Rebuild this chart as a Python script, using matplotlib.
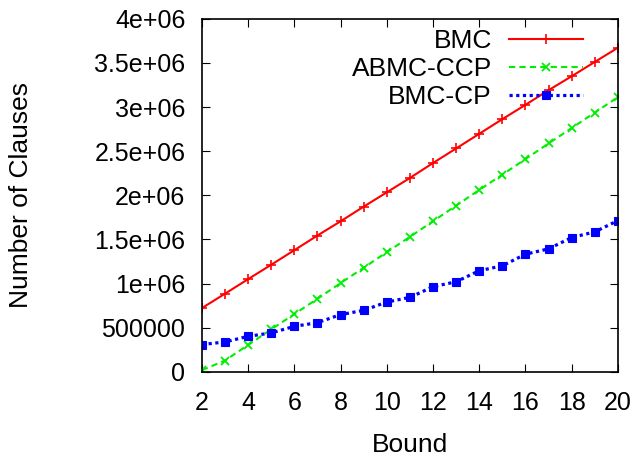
import matplotlib

matplotlib.use("Agg")

import matplotlib.pyplot as plt
from matplotlib.ticker import FuncFormatter, MultipleLocator

plt.rcParams.update({
    "font.family": ["Liberation Sans", "DejaVu Sans"],
    "font.size": 18,
    "xtick.direction": "in", "ytick.direction": "in",
    "xtick.top": True, "ytick.right": True,
    "xtick.major.size": 6, "ytick.major.size": 6,
    "axes.linewidth": 1.2,
})

# values
bounds = list(range(2, 21))
bmc = [723000, 886000, 1051000, 1214000, 1379000, 1545000, 1706000, 1872000, 2034000,
       2197000, 2366000, 2531000, 2697000, 2863000, 3025000, 3191000, 3349000, 3511000, 3672000]
abmc_ccp = [20000, 129000, 305000, 482000, 655000, 829000, 1006000, 1180000, 1356000,
            1530000, 1706000, 1884000, 2061000, 2234000, 2411000, 2588000, 2762000, 2938000, 3112000]
bmc_cp = [310000, 339000, 403000, 441000, 516000, 558000, 649000, 697000, 791000,
          844000, 965000, 1021000, 1146000, 1202000, 1333000, 1394000, 1522000, 1586000, 1714000]

fig = plt.figure(figsize=(6.37, 4.58), dpi=100)
ax = fig.add_axes([0.317, 0.188, 0.653, 0.771])

ax.plot(bounds, bmc, color="#ff0000", lw=1.5, ls="-", marker="+", ms=6.5, mew=1.2,
        label="BMC")
ax.plot(bounds, abmc_ccp, color="#00ee00", lw=1.5, ls=(0, (3, 2)), marker="x", ms=5.5,
        mew=1.3, label="ABMC-CCP")
ax.plot(bounds, bmc_cp, color="#0000ff", lw=2.3, ls=(0, (1, 1.1)), marker="s", ms=5.5,
        mew=0.8, mec="#0000ff", label="BMC-CP")

ax.set_xlim(2, 20)
ax.set_ylim(0, 4e6)
ax.xaxis.set_major_locator(MultipleLocator(2))
ax.yaxis.set_major_locator(MultipleLocator(5e5))
ax.yaxis.set_major_formatter(FuncFormatter(lambda v, _: "%g" % v))
ax.tick_params(axis="x", pad=14)
ax.tick_params(axis="y", pad=12)

ax.set_xlabel("Bound", fontsize=19)
ax.set_ylabel("Number of Clauses", fontsize=19)
ax.xaxis.set_label_coords(0.5, -0.172)
ax.yaxis.set_label_coords(-0.405, 0.5)

ax.legend(loc="upper right", frameon=False, markerfirst=False, fontsize=19,
          handlelength=2.8, handletextpad=0.65, labelspacing=0.15, borderpad=0,
          borderaxespad=0, bbox_to_anchor=(0.916, 0.971))

fig.savefig("out.png", dpi=100)
